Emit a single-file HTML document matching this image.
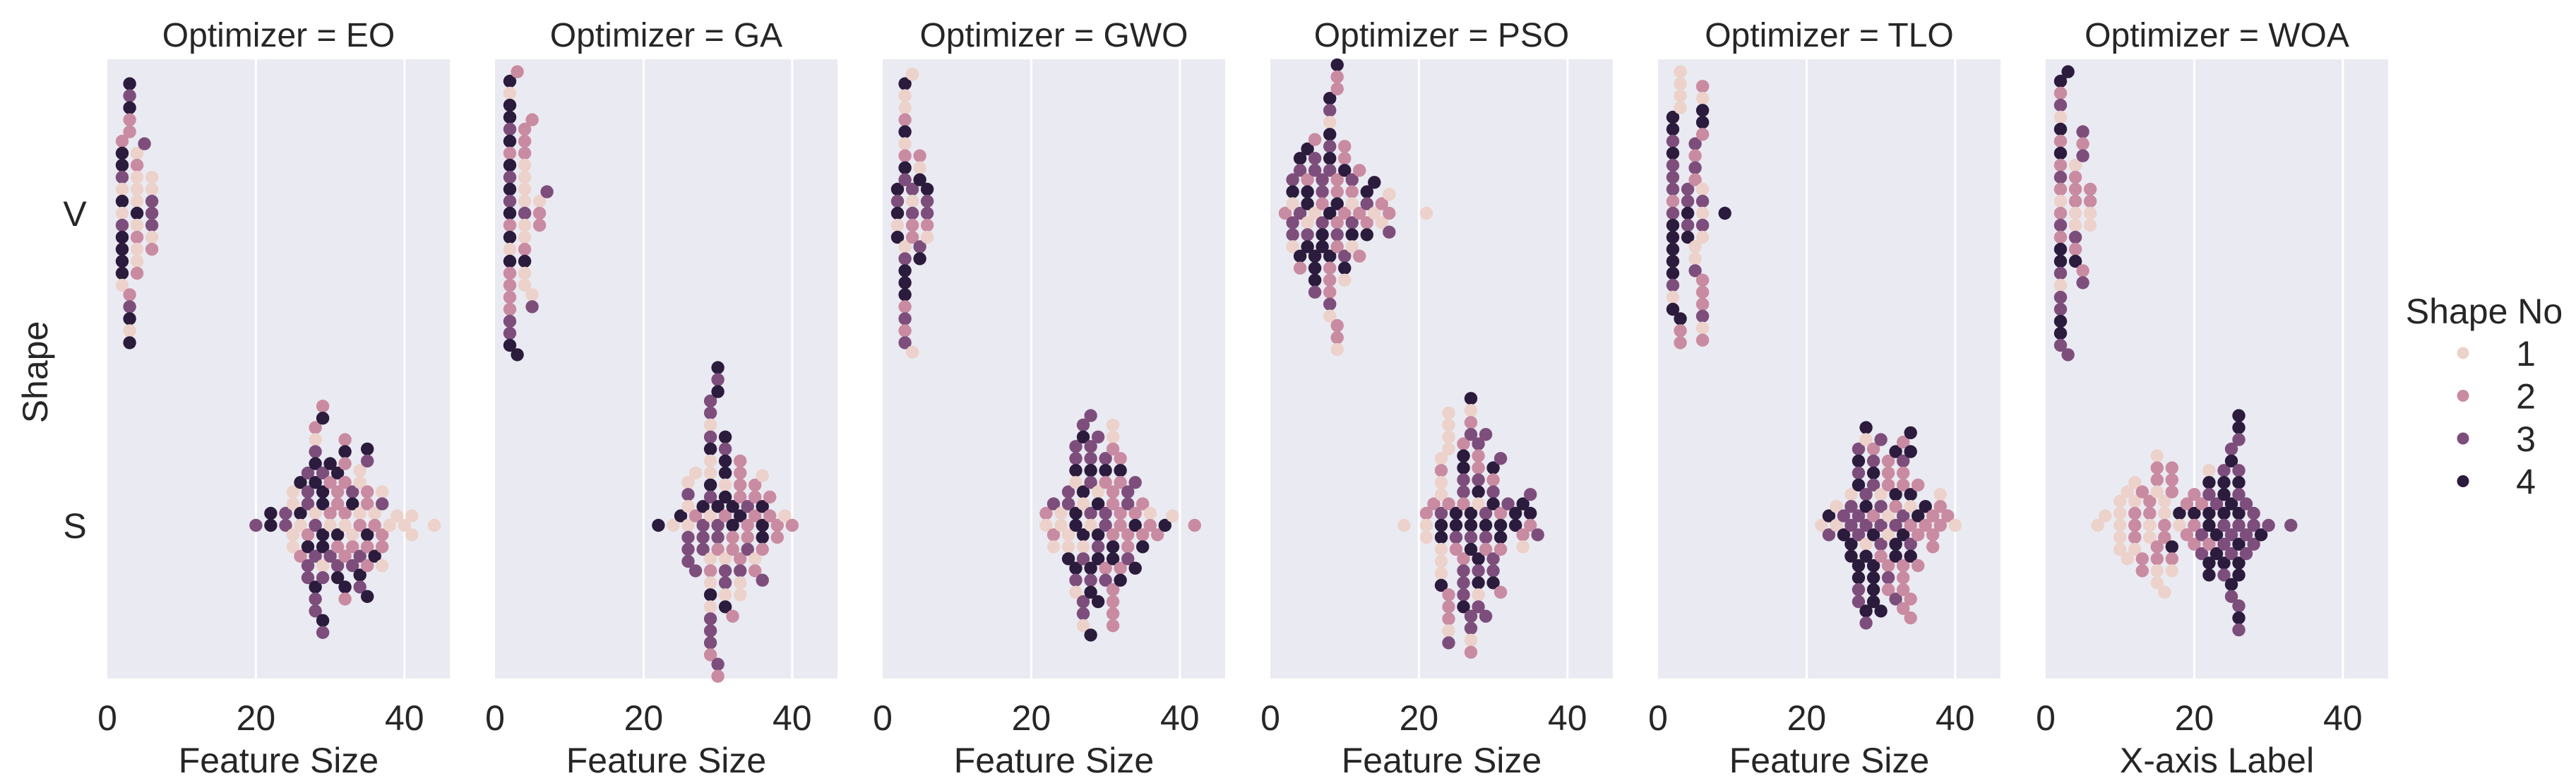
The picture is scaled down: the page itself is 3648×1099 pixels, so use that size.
<!DOCTYPE html>
<html><head><meta charset="utf-8">
<style>
html,body{margin:0;padding:0;background:#fff;}
svg{display:block;font-family:"Liberation Sans",Arial,sans-serif;}
</style></head>
<body>
<svg id="chart" width="3648" height="1099" viewBox="0 0 3648 1099" xmlns="http://www.w3.org/2000/svg">
<rect width="3648" height="1099" fill="#ffffff"/>
<g id="panels"></g>
<text x="54" y="527" font-size="50" fill="#262626" text-anchor="middle" transform="rotate(-90 54 527)" dominant-baseline="middle">Shape</text>
<text x="106" y="320" font-size="50" fill="#262626" text-anchor="middle">V</text>
<text x="106" y="762" font-size="50" fill="#262626" text-anchor="middle">S</text>
<g id="legend">
<text x="3518" y="458" font-size="50" fill="#262626" text-anchor="middle">Shape No</text>
</g>
</svg>
<script>
// ---- data ----
const optimizers = ["EO","GA","GWO","PSO","TLO","WOA"];
const xLabels = ["Feature Size","Feature Size","Feature Size","Feature Size","Feature Size","X-axis Label"];
const categories = ["V","S"];
const xTicks = [0,20,40];
const hueLevels = ["1","2","3","4"];
// each entry: [feature value, hue sequence top-to-bottom]
const EO_V = [[2,"2443141344441"],[3,"4342223414"],[4,"12111412112"],[5,"3"],[6,"1133312"]];
const EO_S = [[20,"3"],[22,"44"],[24,"33"],[25,"1111"],[26,"4412"],[27,"3332433"],[28,"21344133433"],[29,"24344441343"],[30,"42213"],[31,"4224234"],[32,"242221242"],[33,"34123"],[34,"1112343"],[35,"43224224"],[36,"124"],[37,"13221"],[38,"1"],[39,"1"],[40,"1"],[41,"11"],[44,"1"]];
const GA_V = [[2,"41443424343424142222334"],[3,"24"],[4,"22211113112411"],[5,"213"],[6,"122"],[7,"3"]];
const GA_S = [[22,"4"],[24,"1"],[25,"4"],[26,"1311333"],[27,"123"],[28,"4333"],[29,"3313411431121413332"],[30,"434433232"],[31,"434414213314"],[32,"44222"],[33,"222242311"],[34,"3223"],[35,"22212"],[36,"144423"],[37,"22"],[38,"22"],[39,"1"],[40,"2"]];
const GWO_V = [[2,"43414"],[3,"411241243134442323"],[4,"1313221"],[5,"21434"],[6,"43321"]];
const GWO_S = [[22,"21"],[23,"321"],[24,"11"],[25,"33114"],[26,"334144431"],[27,"3441413331"],[28,"33343314344"],[29,"3144344"],[30,"3423323"],[31,"112222442222"],[32,"2422224"],[33,"33223"],[34,"3244"],[35,"224"],[36,"12"],[37,"2"],[38,"4"],[39,"1"],[42,"2"]];
const PSO_V = [[2,"2"],[3,"341331"],[4,"43342"],[5,"4244134"],[6,"23314443"],[7,"332344"],[8,"43143434422231"],[9,"422224232221"],[10,"2242341"],[11,"321341"],[12,"222"],[13,"4324"],[14,"41"],[15,"21"],[16,"123"],[21,"1"]];
const PSO_S = [[18,"1"],[21,"211"],[22,"2"],[23,"12113441114"],[24,"1111222213"],[25,"4432"],[26,"24433223334"],[27,"412344343312"],[28,"32234143413"],[29,"334323"],[30,"4234334"],[31,"324422"],[32,"3"],[33,"44"],[34,"421"],[35,"342"],[36,"3"]];
const TLO_V = [[2,"44343332344444314"],[3,"1111422"],[4,"33434"],[5,"3232113"],[6,"2144213131222312"],[9,"4"]];
const TLO_S = [[22,"1"],[23,"43"],[24,"11"],[25,"34"],[26,"13344"],[27,"3434334433"],[28,"413431443"],[29,"2343244444"],[30,"3133324"],[31,"22211232"],[32,"4423443"],[33,"2322342222"],[34,"444123422"],[35,"2422"],[36,"42"],[37,"222"],[38,"122"],[39,"2"],[40,"1"]];
const WOA_V = [[2,"42314242321232443133443"],[3,"43"],[4,"122211324"],[5,"32323"],[6,"2211"]];
const WOA_S = [[7,"1"],[8,"1"],[10,"11111"],[11,"11"],[12,"112221"],[13,"222"],[14,"2211"],[15,"12212211"],[16,"11221"],[17,"222421"],[18,"41"],[19,"22"],[20,"2422"],[21,"233"],[22,"14344244"],[23,"344"],[24,"34443343"],[25,"3443343"],[26,"44334343444343"],[27,"333"],[28,"333"],[29,"4"],[30,"3"],[33,"3"]];
const panelData = [[EO_V,EO_S],[GA_V,GA_S],[GWO_V,GWO_S],[PSO_V,PSO_S],[TLO_V,TLO_S],[WOA_V,WOA_S]];

// ---- layout / style ----
const NS = "http://www.w3.org/2000/svg";
const colors = {"1":"#ecd2ca","2":"#c98ba1","3":"#7d4e7c","4":"#2b1b3d"};
const panelLeft0 = 152, panelPitch = 549, panelW = 485, panelTop = 84, panelBottom = 961;
const unitPx = 10.52;
const catY = {"V":302,"S":744};
const DIAM = 17, R = 9.2;
function xScale(p, v){ return panelLeft0 + p*panelPitch + v*unitPx; }
function yScale(c){ return catY[c]; }
function mk(tag, attrs, parent){
  const e = document.createElementNS(NS, tag);
  for (const k in attrs) e.setAttribute(k, attrs[k]);
  parent.appendChild(e);
  return e;
}
function swarm(p, cols){
  const pts = [];
  cols.forEach((c,ci) => { for (let i=0;i<c[1].length;i++) pts.push({v:c[0], ci:ci, x:xScale(p,c[0])}); });
  pts.sort((a,b)=>a.v-b.v);
  const placed = [];
  pts.forEach(pt => {
    const near = placed.filter(q => Math.abs(q.x-pt.x) < DIAM);
    const cands = [0];
    near.forEach(q => { const dx=q.x-pt.x; const h=Math.sqrt(DIAM*DIAM-dx*dx); cands.push(q.o+h, q.o-h); });
    cands.sort((a,b)=>Math.abs(a)-Math.abs(b) || a-b);
    for (const c of cands){
      let ok = true;
      for (const q of near){ const dx=q.x-pt.x, dy=q.o-c; if (dx*dx+dy*dy < DIAM*DIAM-0.01){ ok=false; break; } }
      if (ok){ pt.o=c; break; }
    }
    placed.push(pt);
  });
  return placed;
}
const panelsG = document.getElementById("panels");
optimizers.forEach((opt, p) => {
  const left = panelLeft0 + p*panelPitch;
  const g = mk("g", {}, panelsG);
  
  
  const bg = mk("rect", {x:left, y:panelTop, width:panelW, height:panelBottom-panelTop, fill:"#eaeaf2"}, g);
  
  
  xTicks.forEach(t => {
    const x = xScale(p,t);
    if (t>0){
      const gl = mk("line", {x1:x, x2:x, y1:panelTop, y2:panelBottom, stroke:"#ffffff", "stroke-width":3}, g);
      
      
    }
    const tl = mk("text", {x:x, y:1034, "font-size":50, fill:"#262626", "text-anchor":"middle"}, g);
    tl.textContent = String(t);
    
    
  });
  const title = mk("text", {x:left+panelW/2, y:66, "font-size":48, fill:"#262626", "text-anchor":"middle"}, g);
  title.textContent = "Optimizer = " + opt;
  
  
  const xl = mk("text", {x:left+panelW/2, y:1094, "font-size":50, fill:"#262626", "text-anchor":"middle"}, g);
  xl.textContent = xLabels[p];
  
  
  categories.forEach((cat, k) => {
    const cols = panelData[p][k];
    const pts = swarm(p, cols);
    const cy0 = yScale(cat);
    cols.forEach((col, ci) => {
      const cp = pts.filter(q => q.ci===ci).sort((a,b)=>a.o-b.o);
      cp.forEach((q, j) => {
        const h = col[1][j];
        const dot = mk("circle", {cx:q.x.toFixed(1), cy:(cy0+q.o).toFixed(1), r:R, fill:colors[h]}, g);
        
        
      });
    });
  });
});
const legend = document.getElementById("legend");
hueLevels.forEach((h, i) => {
  const y = 500 + i*60.5;
  const m = mk("circle", {cx:3488, cy:y, r:8.5, fill:colors[h]}, legend);
  
  
  const t = mk("text", {x:3577, y:y+18, "font-size":50, fill:"#262626", "text-anchor":"middle"}, legend);
  t.textContent = h;
  
  
});
</script>
</body></html>
